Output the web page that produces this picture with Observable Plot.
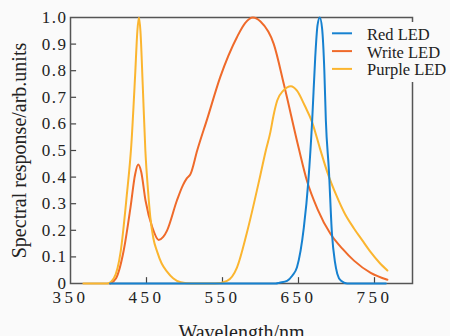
<!DOCTYPE html>
<html>
<head>
<meta charset="utf-8">
<script src="https://cdn.jsdelivr.net/npm/d3@7"></script>
<script src="https://cdn.jsdelivr.net/npm/@observablehq/plot@0.6"></script>
<style>
  html, body { margin: 0; padding: 0; background: #fafafa; }
  #chart svg { display: block; background: #fafafa; font-family: 'Liberation Serif', 'Times New Roman', serif; font-size: 16px; color: #222; }
  #chart svg text { font-family: 'Liberation Serif', 'Times New Roman', serif; }
  #chart g[aria-label="x-axis tick label"] text { font-size: 17px; letter-spacing: 3.5px; }
  #chart g[aria-label="y-axis tick label"] text { font-size: 17px; letter-spacing: 1.5px; }
  #chart g[aria-label="x-axis label"] text, #chart g[aria-label="y-axis label"] text { font-size: 20px; }
</style>
</head>
<body>
<div id="chart"></div>
<script>
// Categories / tick labels
const xTicks = [350, 450, 550, 650, 750];
const yTicks = [0, 0.1, 0.2, 0.3, 0.4, 0.5, 0.6, 0.7, 0.8, 0.9, 1.0];
const seriesNames = ["Red LED", "Write LED", "Purple LED"];
const seriesColors = ["#1681d0", "#ef6a2a", "#fbb52f"];

// Red LED
const redWl  = [402, 620, 625, 635, 642, 648, 657, 663, 668, 672, 675, 678, 681, 684, 686, 690, 694, 698, 701, 706, 714, 765];
const redVal = [0,   0,   0.003, 0.01, 0.03, 0.061, 0.21, 0.387, 0.613, 0.85, 0.97, 1.0, 0.96, 0.8, 0.613, 0.425, 0.188, 0.08, 0.037, 0.01, 0, 0];

// Write LED
const whiteWl  = [402, 410, 420, 429, 435, 439, 443, 448.7, 457.5, 466, 472, 477, 490, 498, 503, 508, 516.7, 530, 547, 569, 580, 590, 600, 617.5, 631, 650, 661, 675, 692, 708, 723, 745, 767];
const whiteVal = [0,   0.02, 0.124, 0.287, 0.41, 0.447, 0.42, 0.312, 0.212, 0.164, 0.175, 0.199, 0.312, 0.37, 0.395, 0.412, 0.5, 0.62, 0.776, 0.926, 0.98, 1.0, 0.985, 0.9, 0.746, 0.512, 0.387, 0.28, 0.187, 0.13, 0.086, 0.04, 0.014];

// Purple LED
const purpleWl  = [367, 398, 407, 416, 424, 430, 435, 438, 440, 442, 445, 448.5, 452, 455, 459, 464, 470, 477, 485, 495, 510, 540, 556, 569, 582, 600, 607, 613, 617, 622, 630, 640, 648, 658, 668, 678, 688, 700, 711, 723, 734, 745, 756, 767];
const purpleVal = [0,   0,   0.02, 0.12, 0.33, 0.52, 0.78, 0.95, 1.0, 0.95, 0.75, 0.5, 0.35, 0.25, 0.17, 0.12, 0.075, 0.045, 0.02, 0.005, 0, 0, 0.01, 0.06, 0.19, 0.41, 0.5, 0.569, 0.63, 0.688, 0.725, 0.742, 0.725, 0.67, 0.606, 0.51, 0.418, 0.33, 0.262, 0.207, 0.162, 0.118, 0.08, 0.049];

const toRows = (wl, val, name) => wl.map((w, i) => ({wl: w, v: val[i], name}));
const redRows = toRows(redWl, redVal, seriesNames[0]);
const whiteRows = toRows(whiteWl, whiteVal, seriesNames[1]);
const purpleRows = toRows(purpleWl, purpleVal, seriesNames[2]);

const W = 450, H = 336;
const mL = 70, mR = 38, mT = 17, mB = 53;
const serif = "'Liberation Serif', 'Times New Roman', serif";

const plot = Plot.plot({
  width: W, height: H,
  marginLeft: mL, marginRight: mR, marginTop: mT, marginBottom: mB,
  x: {domain: [350, 800]},
  y: {domain: [0, 1]},
  marks: [
    Plot.axisX({ticks: xTicks, tickSize: 0, tickPadding: 7, label: "Wavelength/nm", labelAnchor: "center", labelOffset: 55, labelArrow: false, tickFormat: d => String(d)}),
    Plot.axisY({ticks: yTicks, tickSize: 0, tickPadding: 3, label: "Spectral response/arb.units", labelAnchor: "center", labelOffset: 59, labelArrow: false, tickFormat: d => d === 0 ? "0" : d.toFixed(1)}),
    Plot.ruleX(xTicks.slice(1), {x: d => d, y1: 0, y2: 0.022, stroke: "#444", strokeWidth: 1.2}),
    Plot.ruleY(yTicks.slice(1, -1), {y: d => d, x1: 350, x2: 358, stroke: "#444", strokeWidth: 1.2}),
    Plot.frame({stroke: "#555", strokeWidth: 1.5}),
    Plot.lineY(whiteRows, {x: "wl", y: "v", stroke: seriesColors[1], strokeWidth: 2, curve: "monotone-x"}),
    Plot.lineY(purpleRows, {x: "wl", y: "v", stroke: seriesColors[2], strokeWidth: 2, curve: "monotone-x"}),
    Plot.lineY(redRows, {x: "wl", y: "v", stroke: seriesColors[0], strokeWidth: 2, curve: "monotone-x"})
  ]
});

document.getElementById("chart").appendChild(plot);

// Legend (drawn over the upper right of the frame)
const svg = d3.select(plot);
const lg = svg.append("g").attr("class", "legend").attr("text-anchor", "start");
lg.append("rect").attr("x", 326).attr("y", 22).attr("width", 124).attr("height", 60).attr("fill", "#fafafa");
seriesNames.forEach((name, i) => {
  const y = 33.3 + i * 17.8;
  lg.append("line").attr("x1", 332).attr("x2", 352).attr("y1", y).attr("y2", y)
    .attr("stroke", seriesColors[i]).attr("stroke-width", 2);
  lg.append("text").attr("x", 367).attr("y", y + 6.5).text(name)
    .attr("text-anchor", "start")
    .attr("font-family", serif).attr("font-size", 16.5).attr("fill", "#222");
});
</script>
</body>
</html>
